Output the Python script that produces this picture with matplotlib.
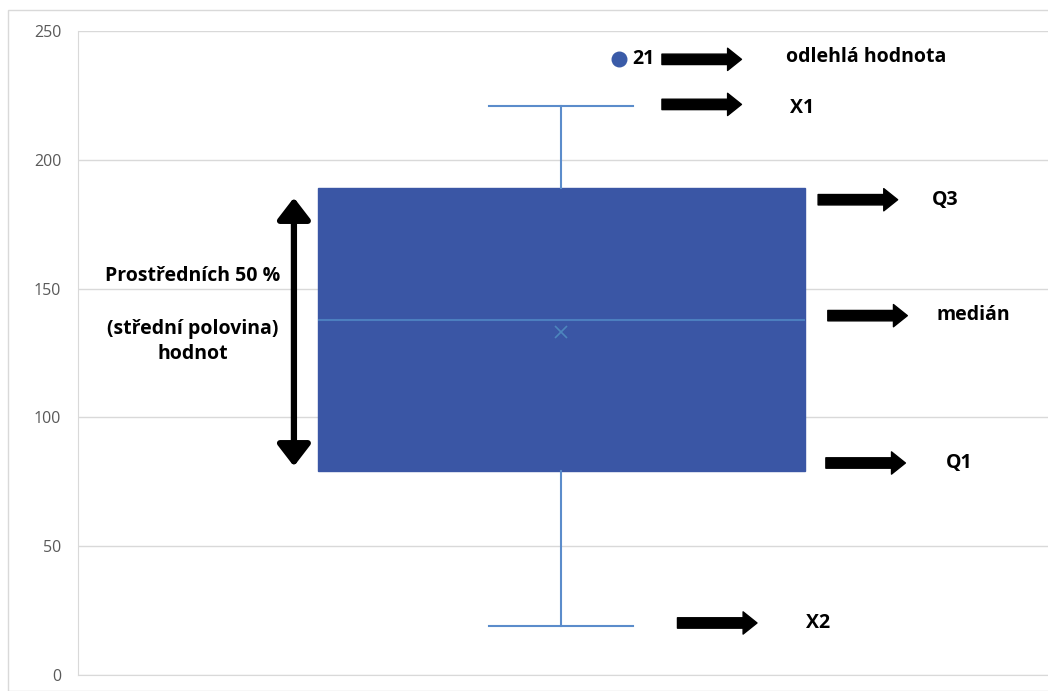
import matplotlib.pyplot as plt
from matplotlib.patches import Rectangle

# box plot summary values
q1 = 79
median = 138
q3 = 189
mean = 133
whisker_low = 19
whisker_high = 221
outliers = [239]
outlier_labels = ['21']

yticks = [0, 50, 100, 150, 200, 250]

# side annotations: (label, arrow y, arrow x start, arrow x end, text x)
notes = ['odlehlá hodnota', 'X1', 'Q3', 'medián', 'Q1', 'X2']
note_y = [239, 221.5, 184.5, 139.5, 82.3, 20.2]
text_y = [240, 220, 184.5, 139.8, 82.3, 20.2]
arrow_x0 = [1.102, 1.102, 1.263, 1.273, 1.271, 1.118]
arrow_x1 = [1.184, 1.184, 1.345, 1.355, 1.353, 1.200]
note_x = [1.230, 1.234, 1.380, 1.385, 1.395, 1.250]

plt.rcParams['font.family'] = ['Open Sans', 'DejaVu Sans']

fig = plt.figure(figsize=(10.48, 6.91), dpi=100)
ax = fig.add_axes([78 / 1048, 1 - 675 / 691, 970 / 1048, 644 / 691])

# chart border
fig.patches.append(Rectangle((8 / 1048, 0), 1, 1 - 10 / 691, transform=fig.transFigure,
                             fill=False, edgecolor='#d9d9d9', linewidth=1))

stats = [dict(med=median, q1=q1, q3=q3, whislo=whisker_low, whishi=whisker_high,
              mean=mean, fliers=[])]
ax.bxp(stats, positions=[0.998], widths=0.502, capwidths=0.148, showmeans=True,
       showfliers=False, patch_artist=True,
       boxprops=dict(facecolor='#3a56a5', edgecolor='#3a56a5', linewidth=1),
       whiskerprops=dict(color='#5b8ccb', linewidth=1.5),
       capprops=dict(color='#5b8ccb', linewidth=1.5),
       medianprops=dict(color='#4c7fbf', linewidth=1.5),
       meanprops=dict(marker='x', markeredgecolor='#4d86bd', markersize=9,
                      markeredgewidth=1.2))

ax.scatter([1.058] * len(outliers), outliers, s=110, color='#3a5ba8', zorder=4)
for v, lab in zip(outliers, outlier_labels):
    ax.text(1.071, v, lab, fontsize=14, fontweight='bold', va='center', ha='left')

for lab, y, ty, x0, x1, tx in zip(notes, note_y, text_y, arrow_x0, arrow_x1, note_x):
    ax.annotate('', xy=(x1, y), xytext=(x0, y),
                arrowprops=dict(arrowstyle='simple,head_width=1.6,head_length=1.0,tail_width=0.75',
                                color='black', shrinkA=0, shrinkB=0, mutation_scale=10))
    ax.text(tx, ty, lab, fontsize=14, fontweight='bold', va='center', ha='left')

# double arrow spanning the interquartile range
ax.annotate('', xy=(0.7226, 185.3), xytext=(0.7226, 81.0),
            arrowprops=dict(arrowstyle='<|-|>,head_width=0.5,head_length=0.65',
                            color='black', linewidth=4.5, shrinkA=0, shrinkB=0,
                            mutation_scale=20))
ax.text(0.618, 155, 'Prostředních 50 %', fontsize=14, fontweight='bold', ha='center', va='center')
ax.text(0.618, 134.5, '(střední polovina)', fontsize=14, fontweight='bold', ha='center', va='center')
ax.text(0.618, 124.5, 'hodnot', fontsize=14, fontweight='bold', ha='center', va='center')

ax.set_xlim(0.5, 1.5)
ax.set_ylim(0, 250)
ax.set_yticks(yticks)
ax.set_xticks([])
ax.tick_params(axis='y', length=0, pad=12, labelsize=11.5, labelcolor='#595959')
ax.grid(axis='y', color='#d9d9d9', linewidth=1)
ax.set_axisbelow(True)
for side in ['top', 'right']:
    ax.spines[side].set_visible(False)
ax.spines['left'].set_color('#d9d9d9')
ax.spines['bottom'].set_color('#d9d9d9')

fig.savefig('out.png', dpi=100)
